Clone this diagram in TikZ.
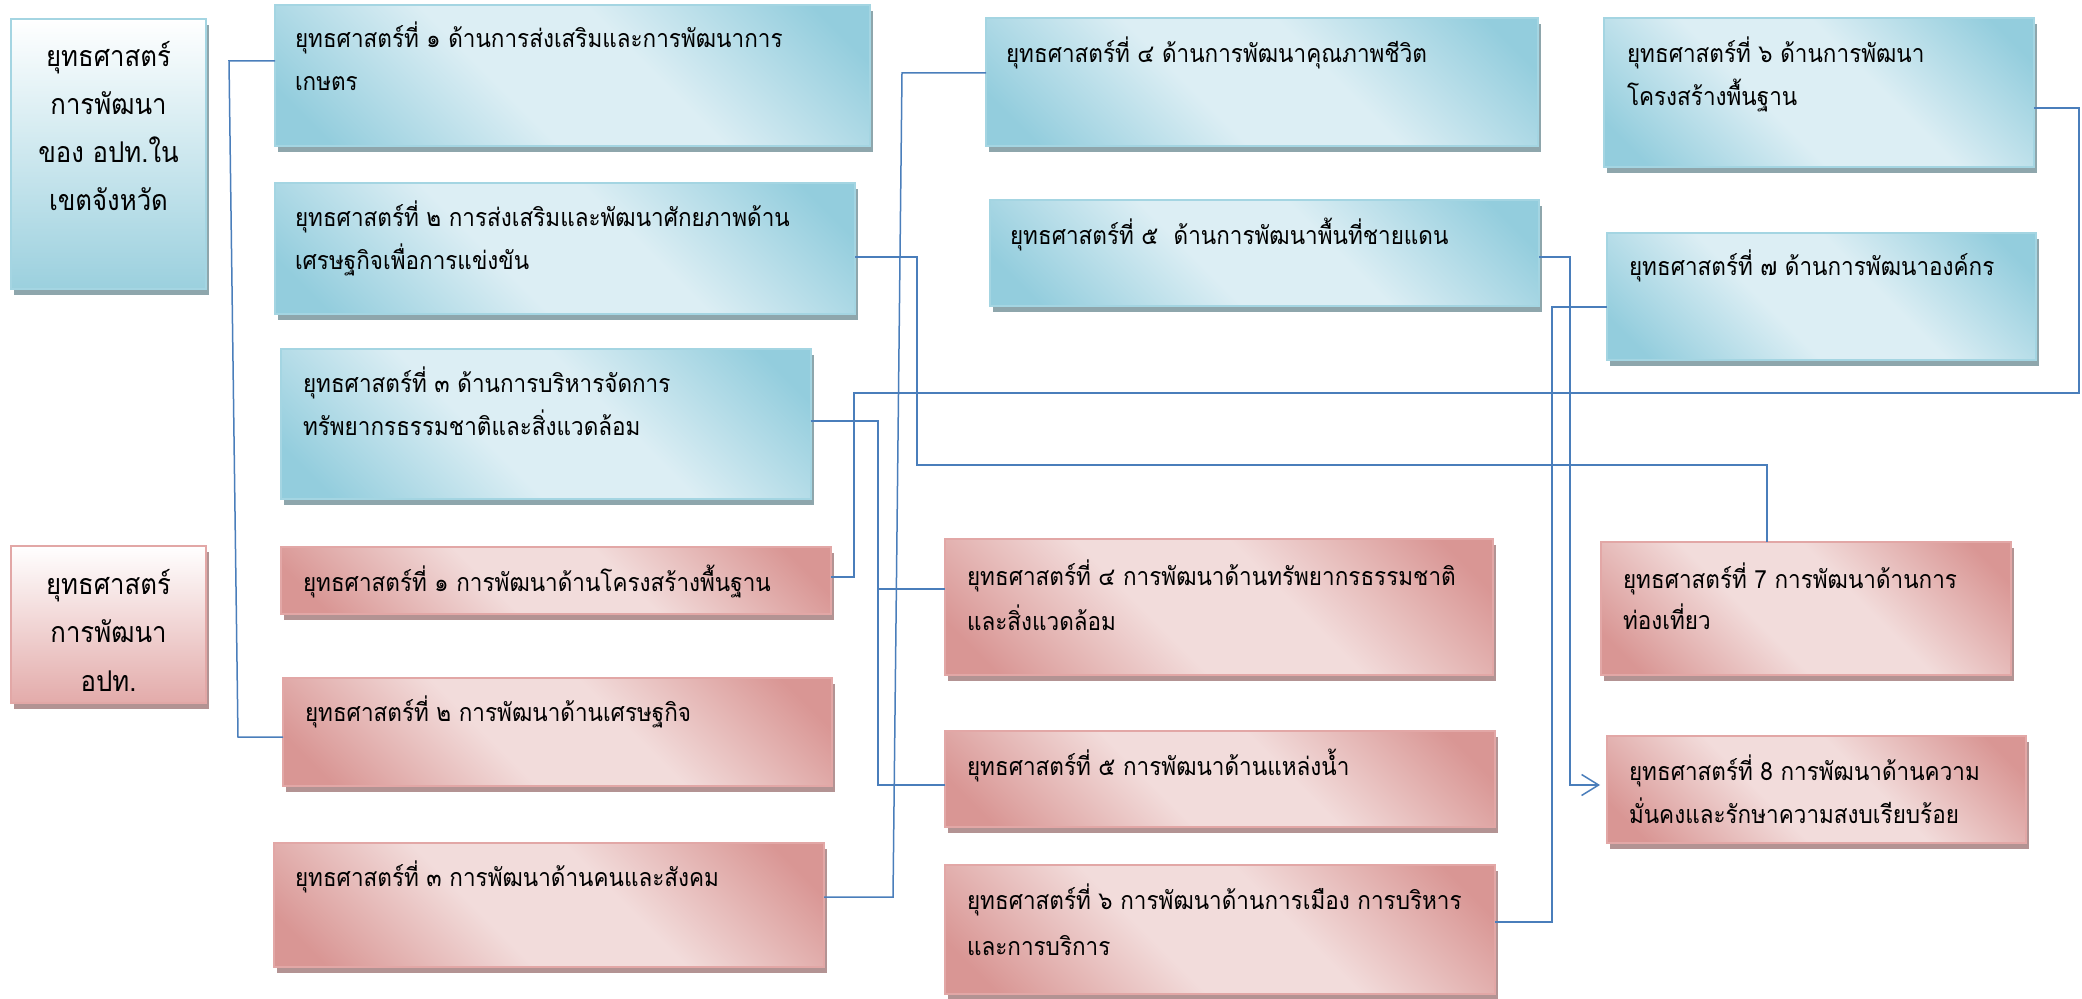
\documentclass[tikz,border=0pt]{standalone}
\usepackage{fontspec}
\newfontfamily\thaifont[Script=Thai,FakeStretch=0.9]{Loma}
\usetikzlibrary{arrows.meta,shadows}
\definecolor{bdark}{HTML}{93CDDD}
\definecolor{blight}{HTML}{DCEEF4}
\definecolor{bborder}{HTML}{A4D5E2}
\definecolor{bshadow}{HTML}{8EA6AC}
\definecolor{rdark}{HTML}{D99694}
\definecolor{rlight}{HTML}{F2DCDB}
\definecolor{rborder}{HTML}{E2A7A6}
\definecolor{rshadow}{HTML}{B39393}
\definecolor{tbdark}{HTML}{9BD0DE}
\definecolor{trdark}{HTML}{E3ABAA}
\definecolor{conncol}{HTML}{4A7EBB}
\pgfdeclarehorizontalshading{bsh}{100bp}{color(0bp)=(bdark); color(20bp)=(bdark); color(42bp)=(blight); color(58bp)=(blight); color(80bp)=(bdark); color(100bp)=(bdark)}
\pgfdeclarehorizontalshading{rsh}{100bp}{color(0bp)=(rdark); color(20bp)=(rdark); color(42bp)=(rlight); color(58bp)=(rlight); color(80bp)=(rdark); color(100bp)=(rdark)}
\newcommand\mybox[9]{%
  \pgfmathsetmacro\bw{(#5-#3)*0.5}%
  \pgfmathsetmacro\bh{(#6-#4)*0.5}%
  \node[#2, anchor=north west, inner sep=0pt, outer sep=0pt,
        minimum width=\bw pt, minimum height=\bh pt] (#1) at (#3,#4)
  {\parbox[c][\bh pt][t]{\bw pt}{\thaifont\fontsize{12.5}{21.5}\selectfont
     #8\rule{0pt}{#7}#9\par}};}
\tikzset{
  bluebox/.style={draw=bborder, line width=1pt, shade, shading=bsh, shading angle=45,
    drop shadow={shadow xshift=1.5pt, shadow yshift=-3pt, fill=bshadow, opacity=1}},
  redbox/.style={draw=rborder, line width=1pt, shade, shading=rsh, shading angle=45,
    drop shadow={shadow xshift=1.5pt, shadow yshift=-3pt, fill=rshadow, opacity=1}},
  titleblue/.style={draw=bborder, line width=1pt, top color=white, bottom color=tbdark,
    drop shadow={shadow xshift=1.5pt, shadow yshift=-3pt, fill=bshadow, opacity=1}},
  titlered/.style={draw=rborder, line width=1pt, top color=white, bottom color=trdark,
    drop shadow={shadow xshift=1.5pt, shadow yshift=-3pt, fill=rshadow, opacity=1}},
  conn/.style={draw=conncol, line width=0.75pt}
}
\begin{document}
\begin{tikzpicture}[x=0.5pt,y=-0.5pt]
\useasboundingbox[fill=white] (0,0) rectangle (2082,999);
% titles
\mybox{T1}{titleblue}{11}{19}{206}{289}{24pt}{\centering\fontsize{14.3}{24}\selectfont}{ยุทธศาสตร์\\การพัฒนา\\ของ อปท.ใน\\เขตจังหวัด}
\mybox{T2}{titlered}{11}{546}{206}{703}{24.5pt}{\centering\fontsize{14.3}{24}\selectfont}{ยุทธศาสตร์\\การพัฒนา\\อปท.}
% blue boxes
\mybox{B1}{bluebox}{275}{5}{870}{146}{21.5pt}{\raggedright\leftskip=10pt}{ยุทธศาสตร์ที่ ๑ ด้านการส่งเสริมและการพัฒนาการ\\เกษตร}
\mybox{B2}{bluebox}{275}{183}{855}{314}{22pt}{\raggedright\leftskip=10pt}{ยุทธศาสตร์ที่ ๒ การส่งเสริมและพัฒนาศักยภาพด้าน\\เศรษฐกิจเพื่อการแข่งขัน}
\mybox{B3}{bluebox}{281}{349}{811}{499}{22pt}{\raggedright\leftskip=11pt}{ยุทธศาสตร์ที่ ๓ ด้านการบริหารจัดการ\\ทรัพยากรธรรมชาติและสิ่งแวดล้อม}
\mybox{B4}{bluebox}{986}{18}{1538}{146}{22.5pt}{\raggedright\leftskip=10pt}{ยุทธศาสตร์ที่ ๔ ด้านการพัฒนาคุณภาพชีวิต}
\mybox{B5}{bluebox}{990}{200}{1539}{306}{22.5pt}{\raggedright\leftskip=10pt}{ยุทธศาสตร์ที่ ๕ \ ด้านการพัฒนาพื้นที่ชายแดน}
\mybox{B6}{bluebox}{1604}{18}{2034}{167}{22.5pt}{\raggedright\leftskip=11.5pt}{ยุทธศาสตร์ที่ ๖ ด้านการพัฒนา\\โครงสร้างพื้นฐาน}
\mybox{B7}{bluebox}{1607}{233}{2036}{360}{21.5pt}{\raggedright\leftskip=11pt}{ยุทธศาสตร์ที่ ๗ ด้านการพัฒนาองค์กร}
% red boxes
\mybox{R1}{redbox}{281}{547}{831}{614}{22pt}{\raggedright\leftskip=11pt}{ยุทธศาสตร์ที่ ๑ การพัฒนาด้านโครงสร้างพื้นฐาน}
\mybox{R2}{redbox}{283}{678}{832}{786}{21.5pt}{\raggedright\leftskip=11pt}{ยุทธศาสตร์ที่ ๒ การพัฒนาด้านเศรษฐกิจ}
\mybox{R3}{redbox}{274}{843}{824}{967}{21.5pt}{\raggedright\leftskip=10.5pt}{ยุทธศาสตร์ที่ ๓ การพัฒนาด้านคนและสังคม}
\mybox{R4}{redbox}{945}{539}{1493}{675}{23pt}{\raggedright\leftskip=11pt\baselineskip=22.5pt}{ยุทธศาสตร์ที่ ๔ การพัฒนาด้านทรัพยากรธรรมชาติ\\และสิ่งแวดล้อม}
\mybox{R5}{redbox}{945}{731}{1495}{827}{22pt}{\raggedright\leftskip=11pt}{ยุทธศาสตร์ที่ ๕ การพัฒนาด้านแหล่งน้ำ}
\mybox{R6}{redbox}{945}{865}{1495}{994}{22pt}{\raggedright\leftskip=11pt\baselineskip=23pt}{ยุทธศาสตร์ที่ ๖ การพัฒนาด้านการเมือง การบริหาร\\และการบริการ}
\mybox{R7}{redbox}{1601}{542}{2011}{675}{23pt}{\raggedright\leftskip=11pt\baselineskip=20.5pt}{ยุทธศาสตร์ที่ 7 การพัฒนาด้านการ\\ท่องเที่ยว}
\mybox{R8}{redbox}{1607}{736}{2026}{843}{22pt}{\raggedright\leftskip=11pt}{ยุทธศาสตร์ที่ 8 การพัฒนาด้านความ\\มั่นคงและรักษาความสงบเรียบร้อย}
% connectors
\draw[conn] (B1.west |- 0,61) -- (229,61) -- (238,737) -- (R2.west |- 0,737);
\draw[conn] (B4.west |- 0,73) -- (902,73) -- (893,897) -- (R3.east |- 0,897);
\draw[conn] (B2.east |- 0,257) -- (917,257) -- (917,465) -- (1767,465) -- (R7.north -| 1767,0);
\draw[conn] (B6.east |- 0,108) -- (2079,108) -- (2079,393) -- (854,393) -- (854,577) -- (R1.east |- 0,577);
\draw[conn] (B3.east |- 0,421) -- (878,421) -- (878,785) -- (R5.west |- 0,785);
\draw[conn] (878,589) -- (R4.west |- 0,589);
\draw[conn, -{Straight Barb[length=8.5pt,width=10.5pt,line width=0.75pt]}, shorten >=3.5pt] (B5.east |- 0,257) -- (1570,257) -- (1570,785) -- (R8.west |- 0,785);
\draw[conn] (B7.west |- 0,307) -- (1552,307) -- (1552,922) -- (R6.east |- 0,922);
\end{tikzpicture}
\end{document}
